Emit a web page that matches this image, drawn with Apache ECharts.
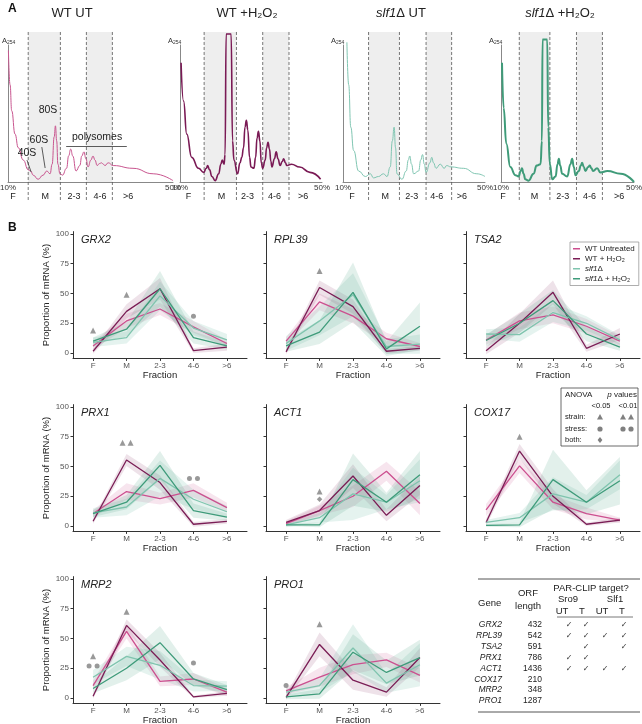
<!DOCTYPE html>
<html>
<head>
<meta charset="utf-8">
<script src="https://cdn.jsdelivr.net/npm/echarts@6/dist/echarts.min.js"></script>
<style>
html, body { margin: 0; padding: 0; background: #fff; }
#chart { width: 642px; height: 724px; }
</style>
</head>
<body>
<div id="chart"></div>
<script>
var FONT = '"Liberation Sans", Arial, "DejaVu Sans", sans-serif';

// ---- panel A : polysome profiles, [gradient %, A254] ----
var wtUtProfile = [[10.1,96],[10.5,71],[10.9,52],[11.7,35],[12.5,25],[13.7,16],[14.9,9],[15.5,8],[16.1,5],[17.3,2],[18.5,5],[19.4,8],[20.2,6],[20.7,13],[21.2,33],[21.5,41],[21.8,30],[22.1,13],[22.6,6],[23.2,5],[24.2,10],[24.7,19],[25.2,24],[25.7,19],[26.5,8],[27.4,12],[27.9,19],[28.4,22],[28.9,17],[29.4,11],[30.1,16],[30.6,19],[31.1,16],[31.6,12],[32.2,13.5],[32.7,14],[33.1,13],[33.5,12],[34.3,14],[35.5,12],[40.3,10],[45.2,6],[50,1]];
var wtH2O2Profile = [[10.3,87],[11,59],[11.9,35],[13.3,18],[15.2,10],[16.7,7],[17.4,10],[17.8,12],[18.3,9],[19,4],[19.9,1],[20.9,6],[21.5,13],[21.9,16],[22.4,13],[22.7,20],[23.0,108],[24.4,108],[24.8,30],[25.2,16],[26.2,6],[26.9,14],[27.4,18],[27.9,25],[28.3,40],[28.7,45],[29.1,38],[29.6,18],[30.0,11],[30.8,10],[31.3,18],[31.7,32],[32.1,37],[32.5,30],[32.9,14],[33.3,10],[34.0,16],[34.4,25],[34.8,29],[35.2,24],[35.6,15],[35.9,11],[36.6,17],[37.1,22],[37.6,17],[38.2,12],[38.8,15],[39.2,17],[39.7,14],[40.1,12],[41.4,13],[43.7,11],[46.6,7],[49.6,2]];
var slf1UtProfile = [[11.1,102],[11.6,71],[12.2,40],[13,23],[14.4,8],[16.3,4],[17.7,6],[18.6,3],[20,4],[21.4,6],[22.4,4],[23.3,11],[23.9,30],[24.4,40],[24.8,25],[25.2,6],[26.6,2],[27.8,8],[28.4,16],[28.8,19],[29.3,13],[29.9,6],[31.3,8],[31.9,16],[32.4,20],[32.9,13],[33.4,7],[34.5,14],[35,18],[35.5,14],[36.2,10],[37.4,13],[38.5,10],[39.2,12],[40.4,11],[43.9,10],[47.7,6],[50,4]];
var slf1H2O2Profile = [[10.3,87],[10.8,54],[11.6,28],[12.8,11],[14.3,5],[15.3,4],[15.9,8],[16.3,10],[16.8,6],[17.3,2],[18.3,1],[19.8,6],[20.7,12],[21.9,13],[22.3,30],[22.5,104],[23.9,104],[24.2,40],[24.7,13],[25.4,2],[26.4,4],[27.0,13],[27.4,17],[27.8,12],[28.4,6],[29.9,4],[30.9,13],[31.4,17],[31.9,11],[32.4,5],[33.4,8],[34.0,12],[34.4,14],[34.9,11],[35.4,8],[36.2,11],[36.7,12],[37.2,10],[37.7,8],[38.9,10],[39.9,7],[42,8],[46,6],[50,0]];

// fraction boundaries (dashed lines) and where the fraction names sit, gradient %
var wtUtBounds = [14.9, 22.7, 29.0, 35.3];
var wtH2O2Bounds = [16.8, 25.9, 33.3, 40.7];
var slf1UtBounds = [17.2, 25.9, 33.4, 40.6];
var slf1H2O2Bounds = [15.5, 24.7, 32.7, 40.5];
var wtUtLabelX = [11.2, 19.0, 26.0, 32.3, 39.1];
var wtH2O2LabelX = [12.4, 21.7, 29.0, 36.6, 44.7];
var slf1UtLabelX = [12.5, 21.9, 29.4, 36.4, 43.5];
var slf1H2O2LabelX = [10.6, 20.1, 28.6, 36.6, 45.5];

// ---- panel B : proportion of mRNA per fraction ----
var fractions = ['F', 'M', '2-3', '4-6', '>6'];
var genes = ['GRX2', 'RPL39', 'TSA2', 'PRX1', 'ACT1', 'COX17', 'MRP2', 'PRO1'];
var seriesNames = ['WT Untreated', 'WT + H\u2082O\u2082', 'slf1\u0394', 'slf1\u0394 + H\u2082O\u2082'];

// means, one row per gene (same order as genes)
var wtUntreated = [
  [6, 27, 37, 22, 8], [10, 43, 31, 12, 5.5], [11, 27, 32, 22.5, 10], [10.5, 29, 23, 30, 15.5],
  [2, 13, 25, 46, 19], [13.5, 50.5, 20, 10.5, 5], [10.5, 56, 14, 16, 5], [6, 17.5, 28, 32, 19]
];
var wtH2O2 = [
  [1.5, 35, 54, 2, 5], [1, 55, 39, 1.5, 4], [2, 25, 51, 4, 16], [4, 55.5, 36.5, 1.5, 4],
  [3, 13, 42, 9, 34], [3, 63, 25, 1.5, 5], [1.5, 61, 32, 1, 4], [0.5, 45, 15, 5, 34]
];
var slf1 = [
  [9, 13, 48, 21, 11], [8, 27, 49, 5.5, 7.5], [16, 15.5, 34, 25, 11], [11, 16, 40, 22.5, 12],
  [1, 7, 27, 20, 38], [3, 7, 27, 20, 43], [17.5, 35, 27.5, 10.5, 10], [5, 10.5, 42, 12.5, 28]
];
var slf1H2O2 = [
  [10, 20, 54, 13, 6], [6, 17.5, 51, 3.5, 22.5], [10.5, 25, 44, 16, 5], [10.5, 20, 51, 13, 7.5],
  [1, 1, 39, 20, 43], [0.5, 1, 39, 20, 38], [8, 25, 46.5, 16, 7], [1, 3.5, 38.5, 21.5, 34]
];
// half width of the shaded band around each mean
var wtUntreatedSpread = [
  [3, 6, 5, 5, 3], [3, 7, 6, 5, 3], [4, 7, 7, 6, 4], [3, 7, 5, 6, 4],
  [2, 4, 9, 8, 10], [5, 6, 6, 5, 2], [4, 6, 4, 5, 3], [3, 8, 8, 6, 6]
];
var wtH2O2Spread = [
  [2, 6, 9, 2, 3], [2, 6, 6, 2, 2], [3, 8, 10, 3, 5], [2, 5, 6, 2, 2],
  [2, 5, 10, 5, 8], [3, 6, 6, 1.5, 2], [2, 5, 6, 1, 2], [2, 10, 8, 4, 8]
];
var slf1Spread = [
  [4, 5, 12, 6, 5], [6, 12, 18, 6, 8], [4, 6, 8, 6, 4], [4, 7, 15, 8, 5],
  [2, 4, 22, 6, 18], [2, 4, 14, 6, 12], [6, 8, 12, 5, 4], [3, 6, 20, 8, 18]
];
var slf1H2O2Spread = [
  [3, 6, 15, 5, 3], [5, 10, 25, 6, 20], [5, 8, 9, 6, 3], [3, 6, 12, 6, 3],
  [1, 2, 22, 8, 20], [1, 2, 25, 10, 20], [4, 10, 14, 5, 4], [2, 4, 15, 10, 15]
];
// ANOVA markers: [gene, fraction, y, kind, count]
var markers = [
  [0, 0, 19, 'strain', 1], [0, 1, 49, 'strain', 1], [0, 3, 31, 'stress', 1],
  [1, 1, 69, 'strain', 1],
  [3, 1, 70, 'strain', 2], [3, 3, 40, 'stress', 2],
  [4, 1, 29, 'strain', 1], [4, 1, 22.5, 'both', 1],
  [5, 1, 75, 'strain', 1],
  [6, 0, 35, 'strain', 1], [6, 0, 27, 'stress', 2], [6, 1, 72.5, 'strain', 1], [6, 3, 29.5, 'stress', 1],
  [7, 0, 10.5, 'stress', 1], [7, 1, 62, 'strain', 1]
];

// ---- table ----
var orfLength = [432, 542, 591, 786, 1436, 210, 348, 1287];
var sro9UT = [1, 1, 0, 1, 1, 0, 0, 0];
var sro9T = [1, 1, 1, 1, 1, 0, 0, 0];
var slf1UT = [0, 1, 0, 0, 1, 0, 0, 0];
var slf1T = [1, 1, 1, 0, 1, 0, 0, 0];

// colours
var lineColors = ['#cc4f8f', '#7a1d55', '#7fc4ae', '#3e9b7a'];
var bandColors = ['rgba(204,79,143,0.15)', 'rgba(122,29,85,0.13)', 'rgba(127,196,174,0.2)', 'rgba(62,155,122,0.15)'];
var markerShapes = { strain: 'triangle', stress: 'circle', both: 'diamond' };
var markerSizes = { strain: 6, stress: 5, both: 5.5 };

// layout
var PROF_TOP = 45, PROF_H = 137;
var profileBoxes = [[8, 165], [180, 142], [343, 142], [501, 133]];
var colLeft = [73, 266, 466], COL_W = 174;
var rowTop = [231.6, 404.6, 576.6], ROW_H = 126.8;

var profiles = [
  { data: wtUtProfile, bounds: wtUtBounds, labelX: wtUtLabelX, color: '#c9558f', width: 1, title: 'WT UT', tx: 72 },
  { data: wtH2O2Profile, bounds: wtH2O2Bounds, labelX: wtH2O2LabelX, color: '#7a1a55', width: 1.6, title: 'WT +H\u2082O\u2082', tx: 247 },
  { data: slf1UtProfile, bounds: slf1UtBounds, labelX: slf1UtLabelX, color: '#80c6b2', width: 1, title: '{i|slf1}\u0394 UT', tx: 401 },
  { data: slf1H2O2Profile, bounds: slf1H2O2Bounds, labelX: slf1H2O2LabelX, color: '#3f9b79', width: 2, title: '{i|slf1}\u0394 +H\u2082O\u2082', tx: 560 }
];
var means = [wtUntreated, wtH2O2, slf1, slf1H2O2];
var spreads = [wtUntreatedSpread, wtH2O2Spread, slf1Spread, slf1H2O2Spread];

var grids = [], xAxes = [], yAxes = [], series = [], graphics = [];

function txt(x, y, s, opt) {
  opt = opt || {};
  graphics.push({
    type: 'text', x: x, y: y, silent: true,
    style: {
      text: s, fill: opt.color || '#222', fontSize: opt.size || 9, fontFamily: FONT,
      fontStyle: opt.italic ? 'italic' : 'normal', fontWeight: opt.bold ? 'bold' : 'normal',
      align: opt.align || 'left', verticalAlign: opt.valign || 'middle', rich: opt.rich
    }
  });
}
function hline(x1, x2, y, color, w) {
  graphics.push({ type: 'line', silent: true, shape: { x1: x1, y1: y, x2: x2, y2: y }, style: { stroke: color || '#444', lineWidth: w || 1 } });
}
function glyph(kind, cx, cy) {
  var s = 3;
  if (kind === 'stress') {
    graphics.push({ type: 'circle', silent: true, shape: { cx: cx, cy: cy, r: 2.6 }, style: { fill: '#808080' } });
  } else if (kind === 'strain') {
    graphics.push({ type: 'polygon', silent: true, shape: { points: [[cx, cy - s], [cx + s, cy + s * 0.8], [cx - s, cy + s * 0.8]] }, style: { fill: '#808080' } });
  } else {
    graphics.push({ type: 'polygon', silent: true, shape: { points: [[cx, cy - s], [cx + s * 0.8, cy], [cx, cy + s], [cx - s * 0.8, cy]] }, style: { fill: '#808080' } });
  }
}

// ---------- panel A ----------
profiles.forEach(function (p, i) {
  var box = profileBoxes[i];
  grids.push({ left: box[0], top: PROF_TOP, width: box[1], height: PROF_H, outerBoundsMode: 'none' });
  xAxes.push({
    gridIndex: i, type: 'value', min: 10, max: 50,
    axisLine: { lineStyle: { color: '#888', width: 1 } }, axisTick: { show: false }, splitLine: { show: false },
    axisLabel: { customValues: [10, 50], formatter: '{value}%', fontSize: 8, color: '#333', margin: 2, fontFamily: FONT }
  });
  yAxes.push({
    gridIndex: i, type: 'value', min: 0, max: 100,
    axisLine: { show: true, lineStyle: { color: '#888', width: 1 } }, axisTick: { show: false },
    axisLabel: { show: false }, splitLine: { show: false }
  });
  // shaded M and 4-6 fractions, dashed borders, fraction names
  series.push({
    type: 'custom', xAxisIndex: i, yAxisIndex: i, silent: true, clip: false, z: 1,
    data: [[p.bounds[0], 0]],
    renderItem: function (params, api) {
      var b = p.bounds, top = 109.5, bottom = -14, ch = [];
      [[b[0], b[1]], [b[2], b[3]]].forEach(function (r) {
        var a = api.coord([r[0], top]), c = api.coord([r[1], 0]);
        ch.push({ type: 'rect', shape: { x: a[0], y: a[1], width: c[0] - a[0], height: c[1] - a[1] }, style: { fill: '#eeeeee' } });
      });
      b.forEach(function (v) {
        var a = api.coord([v, top]), c = api.coord([v, bottom]);
        ch.push({ type: 'line', shape: { x1: a[0], y1: a[1], x2: c[0], y2: c[1] }, style: { stroke: '#555', lineWidth: 0.8, lineDash: [3, 2] } });
      });
      p.labelX.forEach(function (v, k) {
        var a = api.coord([v, -10.5]);
        ch.push({ type: 'text', x: a[0], y: a[1], style: { text: fractions[k], align: 'center', verticalAlign: 'middle', fill: '#222', fontSize: 9, fontFamily: FONT } });
      });
      return { type: 'group', children: ch };
    }
  });
  var line = {
    type: 'line', xAxisIndex: i, yAxisIndex: i, data: p.data, smooth: 0.5, smoothMonotone: 'x',
    symbol: 'none', clip: false, z: 3, silent: true,
    lineStyle: { color: p.color, width: p.width }, itemStyle: { color: p.color }
  };
  if (i === 0) {
    // peak annotations on the WT UT profile
    line.markPoint = {
      symbol: 'circle', symbolSize: 0, silent: true,
      label: { show: true, formatter: '{b}', color: '#222', fontSize: 10.5, fontFamily: FONT },
      data: [
        { name: '80S', coord: [19.7, 52.5] },
        { name: '60S', coord: [17.5, 30.7] },
        { name: '40S', coord: [14.6, 21.2] },
        { name: 'polysomes', coord: [31.6, 33] }
      ]
    };
    line.markLine = {
      symbol: ['none', 'none'], silent: true, label: { show: false },
      lineStyle: { color: '#333', width: 0.8, type: 'solid' },
      data: [
        [{ coord: [14.6, 16] }, { coord: [15.6, 7.3] }],
        [{ coord: [18.2, 25.5] }, { coord: [19.0, 10.2] }],
        [{ coord: [24.1, 26.3] }, { coord: [38.8, 26.3] }]
      ]
    };
  }
  series.push(line);
  txt(p.tx, 13, p.title, { size: 13, align: 'center', rich: { i: { fontStyle: 'italic', fontSize: 13, fontFamily: FONT } } });
  txt(Math.max(2, box[0] - 12), 41, 'A{s|254}', { size: 7.5, color: '#333', rich: { s: { fontSize: 5, fontFamily: FONT, verticalAlign: 'bottom', padding: [3, 0, 0, 0] } } });
});
txt(8, 9, 'A', { size: 12, bold: true, color: '#111' });

// ---------- panel B ----------
txt(8, 228, 'B', { size: 12, bold: true, color: '#111' });
genes.forEach(function (g, gi) {
  var row = Math.floor(gi / 3), col = gi % 3, k = 4 + gi;
  grids.push({ left: colLeft[col], top: rowTop[row], width: COL_W, height: ROW_H, outerBoundsMode: 'none' });
  xAxes.push({
    gridIndex: k, type: 'value', min: -0.6, max: 4.6,
    axisLine: { onZero: false, lineStyle: { color: '#333', width: 1 } },
    axisTick: { show: true, customValues: [0, 1, 2, 3, 4], length: 2.5, lineStyle: { color: '#333' } },
    axisLabel: { customValues: [0, 1, 2, 3, 4], formatter: function (v) { return fractions[Math.round(v)]; }, fontSize: 8, color: '#555', margin: 3, fontFamily: FONT },
    splitLine: { show: false },
    name: 'Fraction', nameLocation: 'middle', nameGap: 11,
    nameTextStyle: { fontSize: 9.5, color: '#222', fontFamily: FONT }
  });
  var y = {
    gridIndex: k, type: 'value', min: -4.5, max: 102,
    axisLine: { show: true, onZero: false, lineStyle: { color: '#333', width: 1 } },
    axisTick: { show: true, customValues: [0, 25, 50, 75, 100], length: 2.5, lineStyle: { color: '#333' } },
    axisLabel: { show: col === 0, customValues: [0, 25, 50, 75, 100], fontSize: 8, color: '#555', margin: 4, fontFamily: FONT },
    splitLine: { show: false }
  };
  if (col === 0) {
    y.name = 'Proportion of mRNA (%)';
    y.nameLocation = 'middle';
    y.nameGap = 18;
    y.nameTextStyle = { fontSize: 9.5, color: '#222', fontFamily: FONT };
  }
  yAxes.push(y);

  // confidence bands
  means.forEach(function (m, si) {
    var pts = m[gi].map(function (v, i) { return [i, v - spreads[si][gi][i], v + spreads[si][gi][i]]; });
    series.push({
      type: 'custom', xAxisIndex: k, yAxisIndex: k, silent: true, clip: true, z: 1,
      data: pts,
      renderItem: function (params, api) {
        if (params.dataIndex !== 0) return null;
        var up = [], lo = [];
        for (var i = 0; i < pts.length; i++) {
          up.push(api.coord([pts[i][0], pts[i][2]]));
          lo.unshift(api.coord([pts[i][0], pts[i][1]]));
        }
        return { type: 'polygon', shape: { points: up.concat(lo) }, style: { fill: bandColors[si] } };
      }
    });
  });
  // mean lines
  means.forEach(function (m, si) {
    series.push({
      name: seriesNames[si], type: 'line', xAxisIndex: k, yAxisIndex: k, silent: true, z: 3,
      data: m[gi].map(function (v, i) { return [i, v]; }),
      symbol: 'none', lineStyle: { color: lineColors[si], width: 1.3 }, itemStyle: { color: lineColors[si] }
    });
  });
  // ANOVA markers
  var md = [];
  markers.forEach(function (mk) {
    if (mk[0] !== gi) return;
    var offs = mk[4] === 2 ? [-4, 4] : [0];
    offs.forEach(function (o) {
      md.push({ value: [mk[1], mk[2]], symbol: markerShapes[mk[3]], symbolSize: markerSizes[mk[3]], symbolOffset: [o, 0] });
    });
  });
  series.push({ type: 'scatter', xAxisIndex: k, yAxisIndex: k, data: md, silent: true, z: 4, itemStyle: { color: '#808080' } });

  txt(colLeft[col] + 8, rowTop[row] + 8, g, { size: 11, italic: true, color: '#222' });
});

// ANOVA key
graphics.push({ type: 'rect', silent: true, shape: { x: 561, y: 388, width: 77, height: 58 }, style: { fill: '#fff', stroke: '#444', lineWidth: 0.8 }, z: 10 });
function keyTxt(x, y, s, opt) { txt(x, y, s, opt); graphics[graphics.length - 1].z = 11; }
function keyGlyph(kind, x, y) { glyph(kind, x, y); graphics[graphics.length - 1].z = 11; }
keyTxt(565, 395, 'ANOVA', { size: 8 });
keyTxt(637, 395, '{i|p} values', { size: 8, align: 'right', rich: { i: { fontStyle: 'italic', fontSize: 8, fontFamily: FONT } } });
keyTxt(601, 406, '<0.05', { size: 7.5, align: 'center' });
keyTxt(628, 406, '<0.01', { size: 7.5, align: 'center' });
keyTxt(565, 417, 'strain:', { size: 7.5 });
keyTxt(565, 429, 'stress:', { size: 7.5 });
keyTxt(565, 440, 'both:', { size: 7.5 });
keyGlyph('strain', 600, 417); keyGlyph('strain', 623, 417); keyGlyph('strain', 631, 417);
keyGlyph('stress', 600, 429); keyGlyph('stress', 623, 429); keyGlyph('stress', 631, 429);
keyGlyph('both', 600, 440);

// ---------- table ----------
hline(478, 640, 579, '#555', 1);
hline(557, 633, 617, '#555', 0.8);
hline(478, 640, 712, '#555', 1);
txt(591, 588, 'PAR-CLIP target?', { size: 9.5, align: 'center' });
txt(478, 603, 'Gene', { size: 9.5 });
txt(528, 593, 'ORF', { size: 9.5, align: 'center' });
txt(528, 606, 'length', { size: 9.5, align: 'center' });
txt(568, 599, 'Sro9', { size: 9.5, align: 'center' });
txt(615, 599, 'Slf1', { size: 9.5, align: 'center' });
[[562, 'UT'], [582, 'T'], [602, 'UT'], [622, 'T']].forEach(function (h) { txt(h[0], 611, h[1], { size: 9.5, align: 'center' }); });
var checkCols = [[sro9UT, 569], [sro9T, 586], [slf1UT, 605], [slf1T, 624]];
genes.forEach(function (g, r) {
  var yy = 625 + r * 10.85;
  txt(502, yy, g, { size: 8.5, italic: true, align: 'right' });
  txt(542, yy, String(orfLength[r]), { size: 8.5, align: 'right' });
  checkCols.forEach(function (c) {
    if (c[0][r]) txt(c[1], yy, '\u2713', { size: 8, align: 'center', color: '#333' });
  });
});

var chart = echarts.init(document.getElementById('chart'));
chart.setOption({
  animation: false,
  backgroundColor: '#fff',
  textStyle: { fontFamily: FONT },
  grid: grids,
  xAxis: xAxes,
  yAxis: yAxes,
  legend: {
    data: seriesNames, orient: 'vertical', left: 570, top: 242,
    icon: 'rect', itemWidth: 7, itemHeight: 1.5, itemGap: 0.5, padding: [2, 4, 2, 3],
    borderColor: '#999', borderWidth: 0.8, backgroundColor: '#fff', selectedMode: false,
    textStyle: { fontSize: 8, color: '#222', fontFamily: FONT, lineHeight: 9.5,
      rich: { i: { fontStyle: 'italic', fontSize: 8, fontFamily: FONT, lineHeight: 9.5 } } },
    formatter: function (n) { return n.indexOf('slf1') === 0 ? '{i|slf1}' + n.slice(4) : n; }
  },
  graphic: graphics,
  series: series
});
</script>
</body>
</html>
